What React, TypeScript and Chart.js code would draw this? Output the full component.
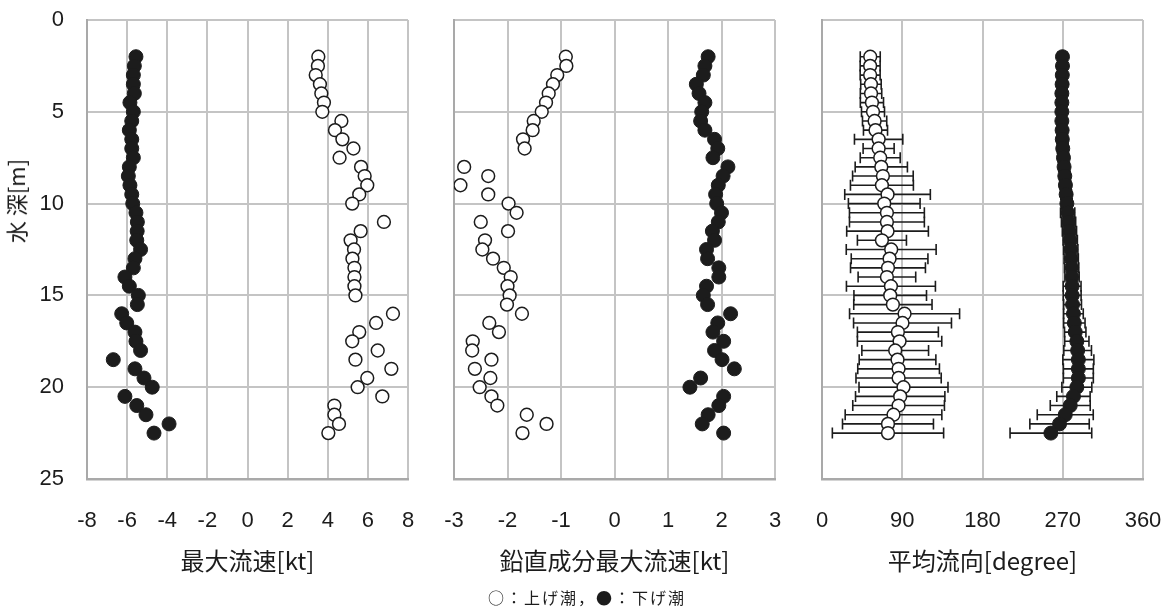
import { useEffect, useRef } from "react";
import { Chart, registerables } from "chart.js";

Chart.register(...registerables);

// Measurement depths [m]
const DEPTHS = [
  2, 2.5, 3, 3.5, 4, 4.5, 5, 5.5, 6, 6.5, 7, 7.5, 8, 8.5, 9, 9.5, 10, 10.5, 11, 11.5, 12,
  12.5, 13, 13.5, 14, 14.5, 15, 15.5, 16, 16.5, 17, 17.5, 18, 18.5, 19, 19.5, 20, 20.5, 21,
  21.5, 22, 22.5,
];

// Maximum current speed [kt] (flood = 上げ潮, ebb = 下げ潮)
const FLOOD_MAX_SPEED = [
  3.53, 3.51, 3.4, 3.61, 3.68, 3.81, 3.73, 4.68, 4.36, 4.73, 5.28, 4.59, 5.66, 5.84, 5.97,
  5.57, 5.22, null, 6.8, 5.64, 5.14, 5.31, 5.23, 5.33, 5.33, 5.33, 5.38, null, 7.25, 6.41,
  5.57, 5.22, 6.49, 5.38, 7.17, 5.97, 5.49, 6.72, 4.33, 4.33, 4.56, 4.03,
];
const EBB_MAX_SPEED = [
  -5.56, -5.64, -5.69, -5.69, -5.64, -5.86, -5.69, -5.77, -5.89, -5.77, -5.77, -5.69, -5.89,
  -5.94, -5.86, -5.77, -5.72, -5.56, -5.49, -5.5, -5.52, -5.33, -5.61, -5.69, -6.11, -5.89,
  -5.44, -5.49, -6.27, -6.02, -5.61, -5.56, -5.33, -6.69, -5.61, -5.16, -4.75, -6.11, -5.52,
  -5.06, -3.91, -4.66,
];

// Maximum vertical component [kt]
const FLOOD_VERTICAL = [
  -0.91, -0.9, -1.07, -1.15, -1.23, -1.28, -1.36, -1.51, -1.53, -1.71, -1.68, null, -2.81,
  -2.36, -2.88, -2.36, -1.98, -1.83, -2.5, -1.99, -2.42, -2.47, -2.27, -2.07, -1.94, -2.0,
  -1.96, -2.01, -1.73, -2.34, -2.16, -2.65, -2.66, -2.3, -2.61, -2.32, -2.52, -2.3, -2.19,
  -1.64, -1.27, -1.72,
];
const EBB_VERTICAL = [
  1.75, 1.69, 1.66, 1.53, 1.58, 1.69, 1.63, 1.61, 1.69, 1.87, 1.93, 1.84, 2.12, 2.03, 1.94,
  1.89, 1.91, 2.0, 1.94, 1.83, 1.87, 1.72, 1.74, 1.95, 1.95, 1.72, 1.66, 1.74, 2.17, 1.93,
  1.84, 2.04, 1.87, 2.01, 2.24, 1.61, 1.41, 2.04, 1.95, 1.75, 1.64, 2.04,
];

// Mean current direction [degree] and its standard deviation
const FLOOD_DIRECTION = [
  54.1, 54.0, 54.0, 54.9, 55.0, 56.0, 57.2, 59.0, 60.0, 63.5, 63.5, 65.3, 66.5, 68.3, 67.2,
  73.5, 69.8, 72.8, 72.8, 73.5, 67.2, 77.6, 75.8, 74.0, 72.8, 77.3, 76.5, 79.5, 92.6, 90.3,
  85.1, 87.0, 82.1, 84.7, 85.9, 85.9, 91.4, 87.7, 85.9, 80.2, 74.0, 74.0,
];
const FLOOD_DIRECTION_SD = [
  11.2, 11.2, 11.2, 11.5, 12.0, 13.0, 12.9, 13.6, 13.5, 27.1, 17.4, 22.4, 29.3, 34.0, 35.3,
  48.0, 40.2, 42.0, 42.0, 45.8, 27.5, 50.4, 43.0, 42.0, 32.3, 49.9, 40.7, 43.9, 61.7, 54.9,
  45.4, 47.3, 37.4, 43.0, 45.8, 47.8, 49.9, 50.1, 51.4, 54.2, 51.0, 62.4,
];
const EBB_DIRECTION = [
  269.7, 269.7, 269.5, 269.3, 269.0, 269.0, 269.0, 269.0, 269.3, 269.5, 270.0, 270.8, 271.5,
  272.3, 273.0, 273.8, 274.6, 275.5, 276.5, 277.5, 278.4, 279.0, 279.5, 280.0, 280.4, 280.5,
  280.6, 281.0, 282.0, 283.0, 284.0, 285.8, 286.7, 287.5, 287.5, 287.5, 285.8, 282.0, 278.4,
  272.8, 266.4, 256.7,
];
const EBB_DIRECTION_SD = [
  5, 5, 5, 5, 5, 5, 5, 5, 5, 6, 6, 6, 6, 6, 6, 6, 6, 8, 8, 8, 8, 8, 8, 8, 8, 10, 10, 10, 11,
  12, 12, 13.6, 15.5, 17.4, 16.8, 16.8, 16.8, 18.7, 22.4, 31.4, 33.3, 45.8,
];

// Axis ranges and labels
const DEPTH_RANGE = [0, 25];
const DEPTH_STEP = 5;
const SPEED_RANGE = [-8, 8];
const SPEED_STEP = 2;
const VERTICAL_RANGE = [-3, 3];
const VERTICAL_STEP = 1;
const DIRECTION_RANGE = [0, 360];
const DIRECTION_STEP = 90;

const TITLE_SPEED = "最大流速[kt]";
const TITLE_VERTICAL = "鉛直成分最大流速[kt]";
const TITLE_DIRECTION = "平均流向[degree]";
const DEPTH_TITLE = "水 深[m]";
const KEY_TEXT = "○：上げ潮，●：下げ潮";

const W = 1169;
const H = 608;
const PLOT_TOP = 20;
const PLOT_BOTTOM = 479;

const INK = "#1c1c1c";
const GRID = "#c4c4c4";
const FRAME = "#a9a9a9";
const TICK_FONT = { family: "'Liberation Sans', 'Noto Sans', sans-serif", size: 22 };
const CJK = "'Noto Sans CJK JP', 'Noto Sans', sans-serif";

function toPoints(values: (number | null)[]) {
  const pts: { x: number; y: number }[] = [];
  values.forEach((v, i) => {
    if (v !== null) pts.push({ x: v, y: DEPTHS[i] });
  });
  return pts;
}

const openStyle = {
  backgroundColor: "#ffffff",
  borderColor: INK,
  borderWidth: 1.5,
  pointRadius: 6.4,
  pointHoverRadius: 6.4,
};
const filledStyle = {
  backgroundColor: INK,
  borderColor: INK,
  borderWidth: 1,
  pointRadius: 7,
  pointHoverRadius: 7,
};

// Horizontal ± standard deviation bars, drawn beneath the markers
const errorBars = {
  id: "errorBars",
  beforeDatasetsDraw(chart: any) {
    const { ctx } = chart;
    const xs = chart.scales.x;
    const ys = chart.scales.y;
    chart.data.datasets.forEach((ds: any) => {
      if (!ds.errors) return;
      ctx.save();
      ctx.strokeStyle = INK;
      ctx.lineWidth = 1.6;
      ds.data.forEach((pt: any, i: number) => {
        const sd = ds.errors[i];
        const y = ys.getPixelForValue(pt.y);
        const x0 = xs.getPixelForValue(pt.x - sd);
        const x1 = xs.getPixelForValue(pt.x + sd);
        ctx.beginPath();
        ctx.moveTo(x0, y);
        ctx.lineTo(x1, y);
        ctx.moveTo(x0, y - 5.5);
        ctx.lineTo(x0, y + 5.5);
        ctx.moveTo(x1, y - 5.5);
        ctx.lineTo(x1, y + 5.5);
        ctx.stroke();
      });
      ctx.restore();
    });
  },
};

type Panel = {
  left: number;
  right: number;
  range: number[];
  step: number;
  title: string;
  depthLabels: boolean;
  datasets: any[];
};

const PANELS: Panel[] = [
  {
    left: 87,
    right: 408,
    range: SPEED_RANGE,
    step: SPEED_STEP,
    title: TITLE_SPEED,
    depthLabels: true,
    datasets: [
      { ...filledStyle, data: toPoints(EBB_MAX_SPEED) },
      { ...openStyle, data: toPoints(FLOOD_MAX_SPEED) },
    ],
  },
  {
    left: 454,
    right: 775,
    range: VERTICAL_RANGE,
    step: VERTICAL_STEP,
    title: TITLE_VERTICAL,
    depthLabels: false,
    datasets: [
      { ...filledStyle, data: toPoints(EBB_VERTICAL) },
      { ...openStyle, data: toPoints(FLOOD_VERTICAL) },
    ],
  },
  {
    left: 822,
    right: 1143,
    range: DIRECTION_RANGE,
    step: DIRECTION_STEP,
    title: TITLE_DIRECTION,
    depthLabels: false,
    datasets: [
      { ...filledStyle, data: toPoints(EBB_DIRECTION), errors: EBB_DIRECTION_SD },
      { ...openStyle, data: toPoints(FLOOD_DIRECTION), errors: FLOOD_DIRECTION_SD },
    ],
  },
];

// Invisible tick marks are used as the label gap so the layout does not reserve extra edge room
function buildConfig(p: Panel, padding: any): any {
  const yWidth = p.depthLabels ? p.left : 0;
  return {
    type: "scatter",
    data: { datasets: p.datasets },
    plugins: [errorBars],
    options: {
      responsive: false,
      animation: false,
      events: [],
      layout: { padding },
      plugins: { legend: { display: false }, tooltip: { enabled: false } },
      scales: {
        x: {
          type: "linear",
          position: "bottom",
          min: p.range[0],
          max: p.range[1],
          afterFit: (s: any) => {
            s.height = H - PLOT_BOTTOM;
          },
          ticks: { stepSize: p.step, color: INK, font: TICK_FONT, padding: 0, maxRotation: 0 },
          grid: {
            color: GRID,
            lineWidth: 2,
            drawTicks: true,
            tickLength: 29,
            tickColor: "rgba(0,0,0,0)",
          },
          border: { display: true, color: FRAME, width: 2.5 },
          title: {
            display: true,
            text: p.title,
            color: INK,
            font: { family: CJK, size: 24 },
            padding: { top: 0, bottom: 33 },
          },
        },
        y: {
          type: "linear",
          position: "left",
          reverse: true,
          min: DEPTH_RANGE[0],
          max: DEPTH_RANGE[1],
          afterFit: (s: any) => {
            s.width = yWidth;
          },
          ticks: {
            display: p.depthLabels,
            stepSize: DEPTH_STEP,
            color: INK,
            font: TICK_FONT,
            padding: 0,
          },
          grid: {
            color: GRID,
            lineWidth: 2,
            drawTicks: p.depthLabels,
            tickLength: 23,
            tickColor: "rgba(0,0,0,0)",
          },
          border: { display: true, color: FRAME, width: 2 },
        },
      },
    },
  };
}

export default function App() {
  const c0 = useRef<HTMLCanvasElement>(null);
  const c1 = useRef<HTMLCanvasElement>(null);
  const c2 = useRef<HTMLCanvasElement>(null);

  useEffect(() => {
    const refs = [c0, c1, c2];
    const charts = PANELS.map((p, i) => {
      const padding = {
        left: p.depthLabels ? 0 : p.left,
        right: W - p.right,
        top: PLOT_TOP,
        bottom: 0,
      };
      const chart = new Chart(refs[i].current as HTMLCanvasElement, buildConfig(p, padding));
      // Nudge the layout padding so every plot frame lands on the same shared box
      for (let k = 0; k < 3; k++) {
        const a = chart.chartArea;
        const dTop = PLOT_TOP - a.top;
        const dLeft = p.left - a.left;
        const dRight = a.right - p.right;
        const dBottom = a.bottom - PLOT_BOTTOM;
        if (Math.abs(dTop) + Math.abs(dLeft) + Math.abs(dRight) + Math.abs(dBottom) < 0.5) break;
        padding.top += dTop;
        padding.left += dLeft;
        padding.right += dRight;
        padding.bottom += dBottom;
        (chart.config.options as any).layout.padding = { ...padding };
        chart.update();
      }
      return chart;
    });
    return () => charts.forEach((c) => c.destroy());
  }, []);

  const layer: any = { position: "absolute", left: 0, top: 0 };

  return (
    <div style={{ position: "absolute", left: 0, top: 0, width: W, height: H, background: "#fff", overflow: "hidden" }}>
      <canvas ref={c0} width={W} height={H} style={layer} />
      <canvas ref={c1} width={W} height={H} style={layer} />
      <canvas ref={c2} width={W} height={H} style={layer} />
      <div
        style={{
          position: "absolute",
          left: 15,
          top: 201,
          transform: "translate(-50%, -50%) rotate(-90deg)",
          whiteSpace: "pre",
          fontFamily: CJK,
          fontSize: 22,
          color: INK,
          lineHeight: 1,
        }}
      >
        {DEPTH_TITLE}
      </div>
      <div
        style={{
          position: "absolute",
          left: 587,
          top: 597,
          transform: "translate(-50%, -50%)",
          whiteSpace: "nowrap",
          fontFamily: CJK,
          fontSize: 16,
          letterSpacing: 2,
          color: INK,
          lineHeight: 1,
        }}
      >
        {KEY_TEXT}
      </div>
    </div>
  );
}
